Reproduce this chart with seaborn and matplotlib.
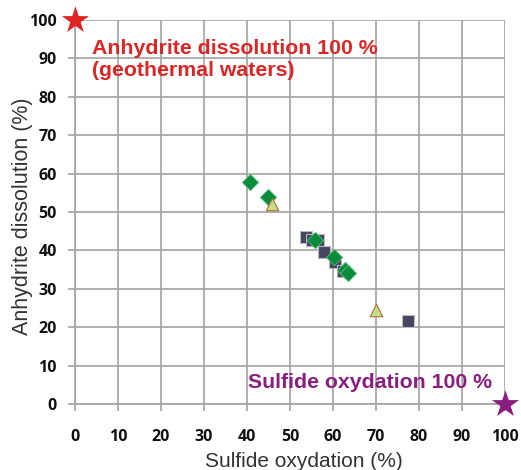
import matplotlib
matplotlib.use("Agg")
import matplotlib.pyplot as plt
import seaborn as sns
import pandas as pd

# data
sq_x = [53.7, 55.0, 56.6, 57.8, 60.5, 62.4, 77.4]
sq_y = [43.6, 42.8, 42.6, 39.6, 37.1, 34.6, 21.7]
dia_x = [40.7, 44.8, 55.9, 60.2, 62.8, 63.6]
dia_y = [57.8, 53.9, 42.6, 38.3, 35.0, 34.2]
tri_x = [45.8, 70.0]
tri_y = [52.0, 24.6]
ticks = [0, 10, 20, 30, 40, 50, 60, 70, 80, 90, 100]
end_x = [0, 100]
end_y = [100, 0]

sns.set_theme(style="white")
plt.rcParams['font.family'] = ['Liberation Sans', 'DejaVu Sans']

fig = plt.figure(figsize=(5.21, 4.70), dpi=100)
ax = fig.add_axes([75/521, 1-404/470, 430/521, 384/470])

grid_c = "#a2a2a2"
df_sq = pd.DataFrame({"x": sq_x, "y": sq_y})
df_di = pd.DataFrame({"x": dia_x, "y": dia_y})
df_tr = pd.DataFrame({"x": tri_x, "y": tri_y})

sns.scatterplot(data=df_sq, x="x", y="y", marker="s", s=75, color="#44455e",
                edgecolor="#b8b8c8", linewidth=0.8, ax=ax, zorder=3)
sns.scatterplot(data=df_di, x="x", y="y", marker="D", s=70, color="#0a8c3c",
                edgecolor="#5fbf7a", linewidth=0.6, ax=ax, zorder=4)
sns.scatterplot(data=df_tr, x="x", y="y", marker="^", s=80, color="#c4dc8c",
                edgecolor="#b07030", linewidth=0.8, ax=ax, zorder=5)

ax.scatter([end_x[0]], [end_y[0]], marker="*", s=420, color="#e02424",
           clip_on=False, zorder=6, linewidths=0)
ax.scatter([end_x[1]], [end_y[1]], marker="*", s=420, color="#8b1c80",
           clip_on=False, zorder=6, linewidths=0)

ax.set_xlim(0, 100)
ax.set_ylim(0, 100)
ax.set_xticks(ticks)
ax.set_yticks(ticks)
ax.set_xticklabels([str(t) for t in ticks], fontweight="bold", fontsize=11.5,
                   family=["Open Sans", "DejaVu Sans"])
ax.set_yticklabels([str(t) for t in ticks], fontweight="bold", fontsize=11.5,
                   family=["Open Sans", "DejaVu Sans"])
ax.grid(True, color=grid_c, linewidth=1.2)
ax.set_axisbelow(True)
for s in ["top", "right"]:
    ax.spines[s].set_visible(False)
for s in ["left", "bottom"]:
    ax.spines[s].set_color(grid_c)
    ax.spines[s].set_linewidth(1.2)
ax.tick_params(axis="both", which="major", length=5, width=1.2, color=grid_c,
               direction="out", labelcolor="#111111")
ax.tick_params(axis="x", bottom=True, pad=13)
ax.tick_params(axis="y", left=True, pad=8)

ax.set_xlabel("Sulfide oxydation (%)", fontsize=15, color="#333333", labelpad=5, x=0.533)
ax.set_ylabel("Anhydrite dissolution (%)", fontsize=15.5, color="#333333", labelpad=-3, y=0.49)

ax.text(4, 89.6, "Anhydrite dissolution 100 %\n(geothermal waters)", color="#e02424",
        fontsize=15.3, fontweight="bold", va="center", ha="left", linespacing=1.2)
ax.text(40.2, 5.5, "Sulfide oxydation 100 %", color="#8b1c80",
        fontsize=15.3, fontweight="bold", va="center", ha="left")

fig.savefig("out.png", dpi=100)
